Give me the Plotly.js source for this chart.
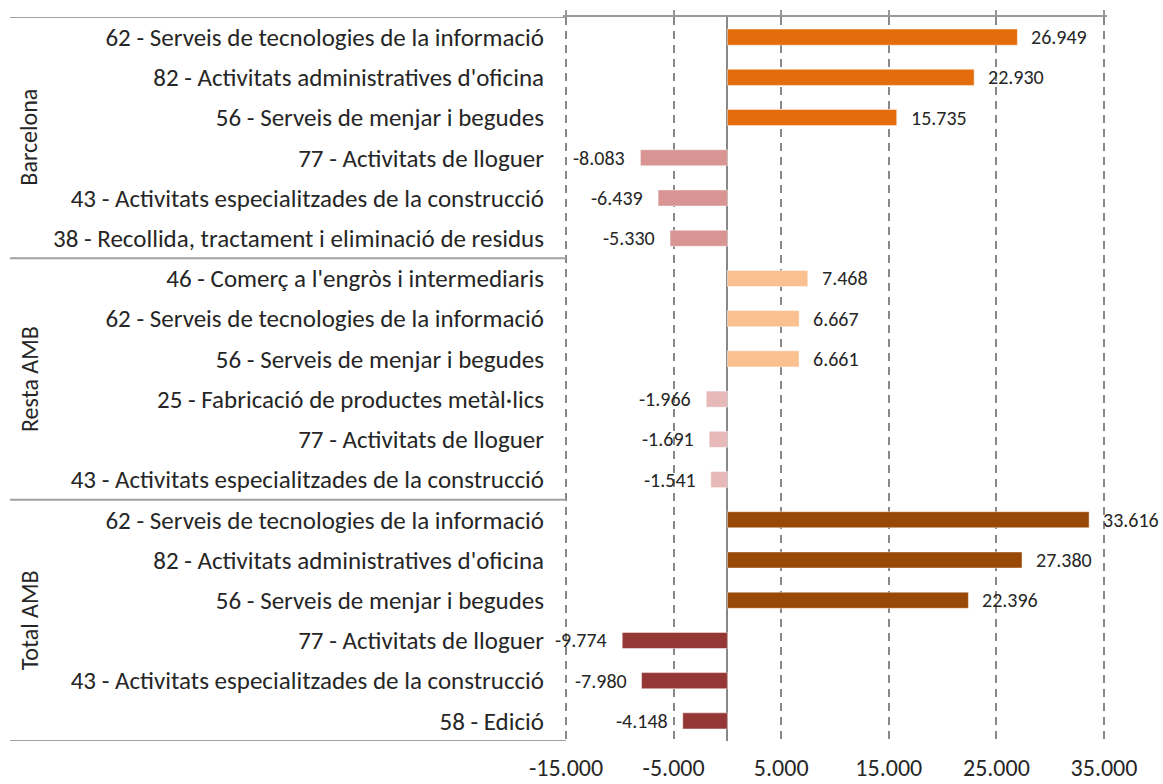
<!DOCTYPE html>
<html>
<head>
<meta charset="utf-8">
<script src="https://cdn.plot.ly/plotly-3.0.1.min.js"></script>
<style>
  html, body { margin: 0; padding: 0; background: #fff; }
  #chart { width: 1163px; height: 784px; }
</style>
</head>
<body>
<div id="chart"></div>
<script>
// ---------- DATA ----------
const groups = ['Barcelona', 'Resta AMB', 'Total AMB'];
const categories = [
  '62 - Serveis de tecnologies de la informació',
  "82 - Activitats administratives d'oficina",
  '56 - Serveis de menjar i begudes',
  '77 - Activitats de lloguer',
  '43 - Activitats especialitzades de la construcció',
  '38 - Recollida, tractament i eliminació de residus',
  "46 - Comerç a l'engròs i intermediaris",
  '62 - Serveis de tecnologies de la informació',
  '56 - Serveis de menjar i begudes',
  '25 - Fabricació de productes metàl·lics',
  '77 - Activitats de lloguer',
  '43 - Activitats especialitzades de la construcció',
  '62 - Serveis de tecnologies de la informació',
  "82 - Activitats administratives d'oficina",
  '56 - Serveis de menjar i begudes',
  '77 - Activitats de lloguer',
  '43 - Activitats especialitzades de la construcció',
  '58 - Edició'
];
const categoryGroup = [0,0,0,0,0,0, 1,1,1,1,1,1, 2,2,2,2,2,2];
const values = [26949, 22930, 15735, -8083, -6439, -5330,
                7468, 6667, 6661, -1966, -1691, -1541,
                33616, 27380, 22396, -9774, -7980, -4148];
const tickVals = [-15000, -5000, 5000, 15000, 25000, 35000];
const tickLabels = ['-15.000', '-5.000', '5.000', '15.000', '25.000', '35.000'];
const axisMin = -15000, axisMax = 35000;

// ---------- STYLE ----------
const posColors = ['#E46C0A', '#FAC090', '#984807'];
const negColors = ['#D99594', '#E6B9B8', '#953735'];
const W = 1163, H = 784;
const leftPx = 566, rightPx = 1104, topPx = 17, botPx = 741;
const padPx = 3; // small extension so edge gridlines are drawn
const unitsPerPx = (axisMax - axisMin) / (rightPx - leftPx);
const mL = leftPx - padPx, mR = W - rightPx - padPx, mT = topPx, mB = H - botPx;
const plotW = W - mL - mR;
const FONT = 'Carlito, Calibri, Lato, sans-serif';
const TXT = '#262626';
const GRID = '#888888';

function fmt(v) {
  const s = Math.abs(v).toString().replace(/\B(?=(\d{3})+(?!\d))/g, '.');
  return (v < 0 ? '-' : '') + s;
}
const px2paper = p => (p - mL) / plotW;
const xRange = [axisMin - padPx * unitsPerPx, axisMax + padPx * unitsPerPx];

const idx = values.map((_, i) => i);
const colors = values.map((v, i) => v >= 0 ? posColors[categoryGroup[i]] : negColors[categoryGroup[i]]);

const trace = {
  type: 'bar',
  orientation: 'h',
  x: values,
  y: idx,
  width: 0.4,
  marker: { color: colors, line: { color: 'rgba(255,255,255,0.45)', width: 1 } },
  hoverinfo: 'x+y',
  showlegend: false
};
// empty trace so that the top axis (x2) gets drawn
const topAxisTrace = { type: 'scatter', x: [], y: [], xaxis: 'x2', yaxis: 'y', showlegend: false, hoverinfo: 'skip' };

const annotations = [];
values.forEach((v, i) => {
  annotations.push({
    x: v, y: i, xref: 'x', yref: 'y',
    text: fmt(v), showarrow: false,
    xanchor: v >= 0 ? 'left' : 'right',
    xshift: v >= 0 ? 12 : -13,
    font: { family: FONT, size: 20, color: TXT }
  });
});
groups.forEach((g, gi) => {
  const members = idx.filter(i => categoryGroup[i] === gi);
  const center = (members[0] + members[members.length - 1]) / 2;
  annotations.push({
    x: px2paper(29), xref: 'paper', y: center, yref: 'y',
    text: g, showarrow: false, textangle: -90,
    xanchor: 'center', yanchor: 'middle',
    font: { family: FONT, size: 24, color: TXT }
  });
});

// separator lines at group boundaries
const shapes = [];
const bounds = [-0.5];
groups.forEach((g, gi) => {
  const members = idx.filter(i => categoryGroup[i] === gi);
  bounds.push(members[members.length - 1] + 0.5);
});
bounds.forEach(b => {
  shapes.push({
    type: 'line', xref: 'paper', yref: 'y',
    x0: px2paper(10), x1: px2paper(leftPx), y0: b, y1: b,
    line: { color: '#A0A0A0', width: 2 }
  });
});

const layout = {
  width: W, height: H,
  margin: { l: mL, r: mR, t: mT, b: mB, pad: 0 },
  paper_bgcolor: '#fff', plot_bgcolor: '#fff',
  font: { family: FONT, color: TXT },
  showlegend: false,
  xaxis: {
    range: xRange,
    tickvals: tickVals, ticktext: tickLabels,
    showgrid: true, gridcolor: GRID, gridwidth: 2, griddash: '8px,6px',
    zeroline: true, zerolinecolor: GRID, zerolinewidth: 2,
    showline: false, ticks: '',
    ticklabelstandoff: 10,
    tickfont: { family: FONT, size: 24, color: TXT },
    fixedrange: true
  },
  xaxis2: {
    overlaying: 'x', matches: 'x', anchor: 'y', side: 'top',
    range: xRange,
    tickvals: tickVals, showticklabels: false,
    showgrid: false, zeroline: false,
    showline: true, linecolor: '#999999', linewidth: 2,
    ticks: 'outside', ticklen: 5, tickcolor: '#999999', tickwidth: 2,
    fixedrange: true
  },
  yaxis: {
    range: [17.5, -0.5],
    tickvals: idx, ticktext: categories,
    showgrid: false, zeroline: false, showline: false, ticks: '',
    ticklabelstandoff: 18,
    tickfont: { family: FONT, size: 25, color: TXT },
    fixedrange: true
  },
  shapes: shapes,
  annotations: annotations
};

Plotly.newPlot('chart', [trace, topAxisTrace], layout, { displayModeBar: false, staticPlot: true });
</script>
</body>
</html>
